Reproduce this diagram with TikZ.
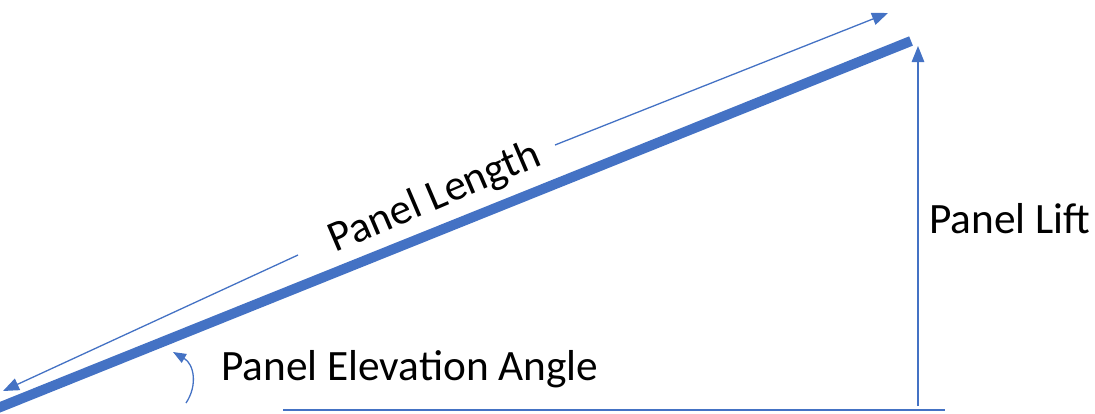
\documentclass[tikz,border=0pt]{standalone}
\usepackage{fontspec}
\setmainfont{Carlito}
\usetikzlibrary{arrows.meta}
\definecolor{officeblue}{HTML}{4472C4}
\tikzset{
  panel/.style={draw=officeblue, line width=10pt},
  dimline/.style={draw=officeblue, line width=1.3pt, -{Triangle[length=16pt,width=12.5pt]}},
  thinline/.style={draw=officeblue, line width=1.3pt},
  lbl/.style={font=\fontsize{43.3}{47}\selectfont, inner sep=0pt, text=black}
}
\begin{document}
\begin{tikzpicture}[x=1pt,y=-1pt]
\useasboundingbox (0,0) rectangle (1095,413);
% thick panel
\coordinate (pA) at (-2,408);
\coordinate (pB) at (911,41);
\draw[panel] (pA) -- (pB);
% panel length dimension arrow with gap
\coordinate (lA) at (3,391);
\coordinate (lB) at (888,13);
\coordinate (g1) at (298,255);
\coordinate (g2) at (555,145);
\draw[dimline] (g1) -- (lA);
\draw[dimline] (g2) -- (lB);
\node[lbl, rotate=23.1] (plen) at (435,198) {Panel Length};
% lift
\coordinate (v0) at (918,406);
\coordinate (v1) at (918,46);
\draw[dimline] (v0) -- (v1);
\node[lbl, anchor=base west] (plift) at (929,233) {Panel Lift};
% ground
\coordinate (h0) at (283,410);
\coordinate (h1) at (945,410);
\draw[thinline] (h0) -- (h1);
% angle arrow
\coordinate (a0) at (186,403);
\coordinate (a1) at (173,352);
\draw[dimline, -{Triangle[length=13pt,width=10pt]}] (a0) .. controls (198,385) and (194,364) .. (a1);
\node[lbl, anchor=base west] (pelev) at (221,380) {Panel Elevation Angle};
\end{tikzpicture}
\end{document}
